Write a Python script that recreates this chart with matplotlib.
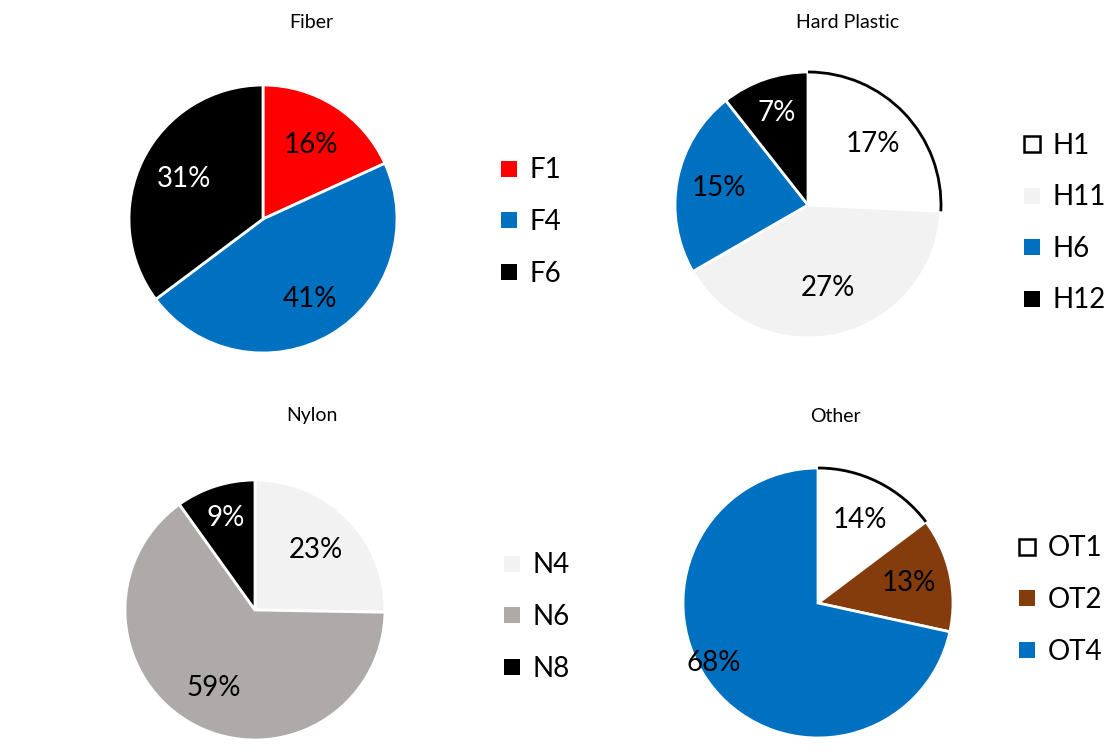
import numpy as np
import matplotlib.pyplot as plt
from matplotlib.lines import Line2D
from matplotlib.patches import Arc

plt.rcParams['font.family'] = ['Lato', 'DejaVu Sans']

W, H = 1113, 754

# category shares (%) per material group
fiber_labels = ['F1', 'F4', 'F6']
fiber_values = [16, 41, 31]
hard_labels = ['H1', 'H11', 'H6', 'H12']
hard_values = [17, 27, 15, 7]
nylon_labels = ['N4', 'N6', 'N8']
nylon_values = [23, 59, 9]
other_labels = ['OT1', 'OT2', 'OT4']
other_values = [14, 13, 68]

fiber_colors = ['#FF0000', '#0070C0', '#000000']
hard_colors = ['#FFFFFF', '#F2F2F2', '#0070C0', '#000000']
nylon_colors = ['#F2F2F2', '#AEAAAA', '#000000']
other_colors = ['#FFFFFF', '#843C0C', '#0070C0']

fiber_text = ['black', 'black', 'white']
hard_text = ['black', 'black', 'black', 'white']
nylon_text = ['black', 'black', 'white']
other_text = ['black', 'black', 'black']

# (title, labels, values, colors, text colors, outlined slice,
#  pie centre px, radius px, label radii, label angle nudges, title pos px, legend anchor px)
panels = [
    ('Fiber', fiber_labels, fiber_values, fiber_colors, fiber_text, None,
     (263, 219), 134, [0.66, 0.69, 0.66], [0, 0, 0], (311, 22), (498, 222)),
    ('Hard Plastic', hard_labels, hard_values, hard_colors, hard_text, 0,
     (808, 205), 133, [0.67, 0.64, 0.68, 0.73], [0, 0, 0, 0], (848, 22), (1021, 223)),
    ('Nylon', nylon_labels, nylon_values, nylon_colors, nylon_text, None,
     (255, 610), 130, [0.66, 0.68, 0.74], [0, 0, 0], (312, 416), (501, 617)),
    ('Other', other_labels, other_values, other_colors, other_text, 0,
     (818, 603), 135, [0.69, 0.69, 0.89], [0, 0, -9], (835, 416), (1016, 600)),
]

fig = plt.figure(figsize=(W / 100, H / 100), dpi=100)

for (title, labels, values, colors, tcolors, outlined,
     (cx, cy), r, lrad, lnudge, (tx, ty), (lx, ly)) in panels:
    ax = fig.add_axes([(cx - r) / W, 1 - (cy + r) / H, 2 * r / W, 2 * r / H])
    wedges, _ = ax.pie(values, colors=colors, startangle=90, counterclock=False,
                       radius=1, wedgeprops=dict(edgecolor='white', linewidth=2,
                                                 clip_on=False))
    ax.set_xlim(-1, 1)
    ax.set_ylim(-1, 1)
    ax.axis('off')

    for w, v, rr, dn, tc in zip(wedges, values, lrad, lnudge, tcolors):
        mid = np.deg2rad((w.theta1 + w.theta2) / 2 + dn)
        ax.text(rr * np.cos(mid), rr * np.sin(mid), f'{v}%', ha='center',
                va='center', fontsize=20, color=tc)

    if outlined is not None:
        w = wedges[outlined]
        ax.add_patch(Arc((0, 0), 2, 2, theta1=w.theta1, theta2=w.theta2,
                         color='black', linewidth=2, clip_on=False))

    fig.text(tx / W, 1 - ty / H, title, ha='center', va='center', fontsize=14)

    handles = []
    for i, c in enumerate(colors):
        edge = 'black' if i == outlined else c
        handles.append(Line2D([], [], linestyle='none', marker='s', markersize=12,
                              markerfacecolor=c, markeredgecolor=edge,
                              markeredgewidth=1.8 if i == outlined else 0))
    fig.legend(handles, labels, loc='center left', bbox_to_anchor=(lx / W, 1 - ly / H),
               frameon=False, fontsize=20, handlelength=0.8, handletextpad=0.35,
               labelspacing=0.92, borderpad=0, borderaxespad=0)

fig.savefig('out.png', dpi=100)
